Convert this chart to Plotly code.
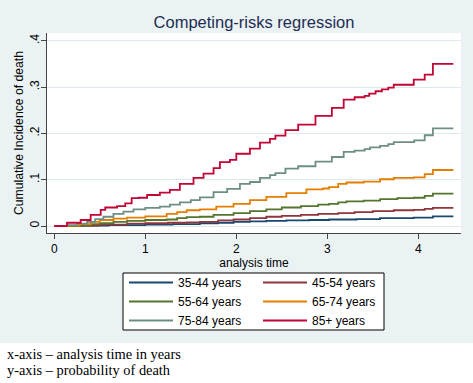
import plotly.graph_objects as go

# ---- data (time in years, cumulative incidence) ----
t_3544 = [0, 0.3, 0.6, 1.0, 1.3, 1.6, 1.8, 1.97, 2.15, 2.33, 2.55, 2.80, 3.02, 3.32, 3.58, 3.95, 4.16, 4.385]
y_3544 = [0, 0.001, 0.002, 0.003, 0.004, 0.006, 0.007, 0.009, 0.010, 0.011, 0.012, 0.013, 0.014, 0.015, 0.017, 0.018, 0.021, 0.021]

t_4554 = [0, 0.3, 0.5, 0.8, 1.0, 1.25, 1.455, 1.60, 1.80, 1.97, 2.15, 2.33, 2.50, 2.71, 2.90, 3.12, 3.30, 3.50, 3.73, 3.95, 4.07, 4.16, 4.385]
y_4554 = [0, 0.001, 0.003, 0.005, 0.006, 0.007, 0.008, 0.009, 0.012, 0.014, 0.017, 0.020, 0.022, 0.024, 0.026, 0.028, 0.030, 0.032, 0.034, 0.035, 0.037, 0.039, 0.039]

t_5564 = [0, 0.25, 0.40, 0.50, 0.65, 0.80, 1.00, 1.235, 1.35, 1.455, 1.60, 1.75, 1.97, 2.15, 2.33, 2.50, 2.71, 2.90, 3.02, 3.12, 3.21, 3.40, 3.58, 3.77, 3.95, 4.07, 4.16, 4.385]
y_5564 = [0, 0.001, 0.004, 0.006, 0.009, 0.011, 0.013, 0.014, 0.017, 0.019, 0.020, 0.024, 0.028, 0.032, 0.036, 0.040, 0.043, 0.046, 0.048, 0.051, 0.053, 0.055, 0.058, 0.060, 0.061, 0.065, 0.070, 0.070]

t_6574 = [0, 0.15, 0.28, 0.40, 0.50, 0.65, 0.80, 1.00, 1.235, 1.35, 1.455, 1.60, 1.78, 1.97, 2.15, 2.33, 2.55, 2.77, 2.95, 3.02, 3.12, 3.21, 3.40, 3.58, 3.73, 3.95, 4.07, 4.16, 4.385]
y_6574 = [0, 0.001, 0.004, 0.009, 0.013, 0.016, 0.018, 0.021, 0.026, 0.030, 0.034, 0.036, 0.042, 0.048, 0.056, 0.063, 0.071, 0.079, 0.081, 0.084, 0.091, 0.094, 0.096, 0.101, 0.104, 0.105, 0.112, 0.121, 0.121]

t_7584 = [0, 0.14, 0.25, 0.36, 0.45, 0.54, 0.65, 0.76, 0.87, 1.00, 1.16, 1.27, 1.38, 1.50, 1.60, 1.75, 1.90, 2.04, 2.15, 2.26, 2.37, 2.43, 2.54, 2.68, 2.87, 3.05, 3.18, 3.30, 3.41, 3.47, 3.58, 3.67, 3.73, 3.955, 4.07, 4.16, 4.385]
y_7584 = [0, 0.002, 0.005, 0.009, 0.015, 0.020, 0.026, 0.031, 0.036, 0.039, 0.042, 0.046, 0.051, 0.056, 0.062, 0.073, 0.080, 0.091, 0.095, 0.104, 0.110, 0.114, 0.124, 0.129, 0.139, 0.149, 0.160, 0.163, 0.166, 0.170, 0.173, 0.177, 0.181, 0.185, 0.196, 0.211, 0.211]

t_85 = [0, 0.14, 0.29, 0.40, 0.51, 0.56, 0.69, 0.78, 0.85, 0.93, 1.02, 1.16, 1.27, 1.38, 1.53, 1.64, 1.75, 1.82, 1.93, 2.00, 2.15, 2.26, 2.37, 2.43, 2.54, 2.68, 2.87, 3.05, 3.18, 3.30, 3.41, 3.46, 3.53, 3.60, 3.67, 3.73, 3.95, 4.07, 4.16, 4.385]
y_85 = [0, 0.007, 0.013, 0.024, 0.035, 0.040, 0.043, 0.049, 0.060, 0.061, 0.067, 0.072, 0.078, 0.091, 0.104, 0.113, 0.125, 0.138, 0.143, 0.156, 0.167, 0.180, 0.188, 0.195, 0.207, 0.219, 0.238, 0.255, 0.273, 0.278, 0.281, 0.286, 0.291, 0.295, 0.299, 0.305, 0.316, 0.327, 0.350, 0.350]

group_labels = ["35-44 years", "45-54 years", "55-64 years", "65-74 years", "75-84 years", "85+ years"]
group_colors = ["#1A476F", "#90353B", "#55752F", "#E37E00", "#6E8E84", "#C10534"]
group_legend = ["legend", "legend2", "legend", "legend2", "legend", "legend2"]

y_tickvals = [0, 0.1, 0.2, 0.3, 0.4]
y_ticktext = ["0", ".1", ".2", ".3", ".4"]
x_tickvals = [0, 1, 2, 3, 4]

series_t = [t_3544, t_4554, t_5564, t_6574, t_7584, t_85]
series_y = [y_3544, y_4554, y_5564, y_6574, y_7584, y_85]

FONT = "Liberation Sans, Arial, sans-serif"
SERIF = "Liberation Serif, DejaVu Serif, serif"

fig = go.Figure()
for t, y, name, col, lg in zip(series_t, series_y, group_labels, group_colors, group_legend):
    fig.add_trace(go.Scatter(
        x=t, y=y, mode="lines", name=name, legend=lg,
        line=dict(color=col, width=1.8, shape="hv"),
    ))

W, H = 473, 383
ml, mr, mt, mb = 47, 12, 33, 150
plot_w = W - ml - mr
plot_h = H - mt - mb


def px_x(p):
    return (p - ml) / plot_w


def px_y(p):
    return (H - mb - p) / plot_h


legend_common = dict(
    bgcolor="rgba(0,0,0,0)", borderwidth=0, orientation="v",
    font=dict(family=FONT, size=12, color="black"),
    itemwidth=44, yanchor="top", xanchor="left", tracegroupgap=0,
)

fig.update_layout(
    width=W, height=H,
    margin=dict(l=ml, r=mr, t=mt, b=mb, autoexpand=False),
    paper_bgcolor="#EAF2F3",
    plot_bgcolor="white",
    font=dict(family=FONT, size=12, color="black"),
    title=dict(text="Competing-risks regression", x=0.5, xref="paper", xanchor="center",
               y=1 - 22 / H, yref="container", yanchor="middle",
               font=dict(family=FONT, size=16.5, color="#1F2D52")),
    showlegend=True,
    legend=dict(x=px_x(124), y=px_y(268), **legend_common),
    legend2=dict(x=px_x(258), y=px_y(268), **legend_common),
    xaxis=dict(
        range=[-0.08, 4.469], tickvals=x_tickvals, showgrid=False, zeroline=False,
        showline=True, linecolor="#444444", linewidth=1, automargin=False,
        ticks="outside", ticklen=5, tickcolor="#444444",
        tickfont=dict(family=FONT, size=12, color="black"),
        title=dict(text="analysis time", standoff=0, font=dict(family=FONT, size=12, color="black")),
    ),
    yaxis=dict(
        range=[-0.0151, 0.4168], tickvals=y_tickvals, ticktext=y_ticktext, tickangle=-90,
        showgrid=True, gridcolor="#DDE8EC", gridwidth=1, zeroline=False,
        showline=True, linecolor="#444444", linewidth=1, automargin=False,
        ticks="outside", ticklen=5, tickcolor="#444444", ticklabelstandoff=-3,
        tickfont=dict(family=FONT, size=12, color="black"),
        title=dict(text="Cumulative Incidence of death", standoff=1,
                   font=dict(family=FONT, size=12.2, color="black")),
    ),
    shapes=[
        # white strip under the graph region
        dict(type="rect", xref="paper", yref="paper", x0=-0.2, x1=1.2,
             y0=px_y(H + 10), y1=px_y(343), fillcolor="white", line=dict(width=0), layer="below"),
        # legend frame
        dict(type="rect", xref="paper", yref="paper", x0=px_x(123), x1=px_x(384),
             y0=px_y(330), y1=px_y(273), fillcolor="white",
             line=dict(color="black", width=1), layer="above"),
    ],
    annotations=[
        dict(text="x-axis – analysis time in years", xref="paper", yref="paper",
             x=px_x(5), y=px_y(354), xanchor="left", yanchor="middle", showarrow=False,
             font=dict(family=SERIF, size=14.4, color="black")),
        dict(text="y-axis – probability of death", xref="paper", yref="paper",
             x=px_x(5), y=px_y(370), xanchor="left", yanchor="middle", showarrow=False,
             font=dict(family=SERIF, size=14.4, color="black")),
    ],
)

fig.write_html("out.html",
               config={"displayModeBar": False},
               post_script="document.body.style.margin='0px';document.body.style.overflow='hidden';")
